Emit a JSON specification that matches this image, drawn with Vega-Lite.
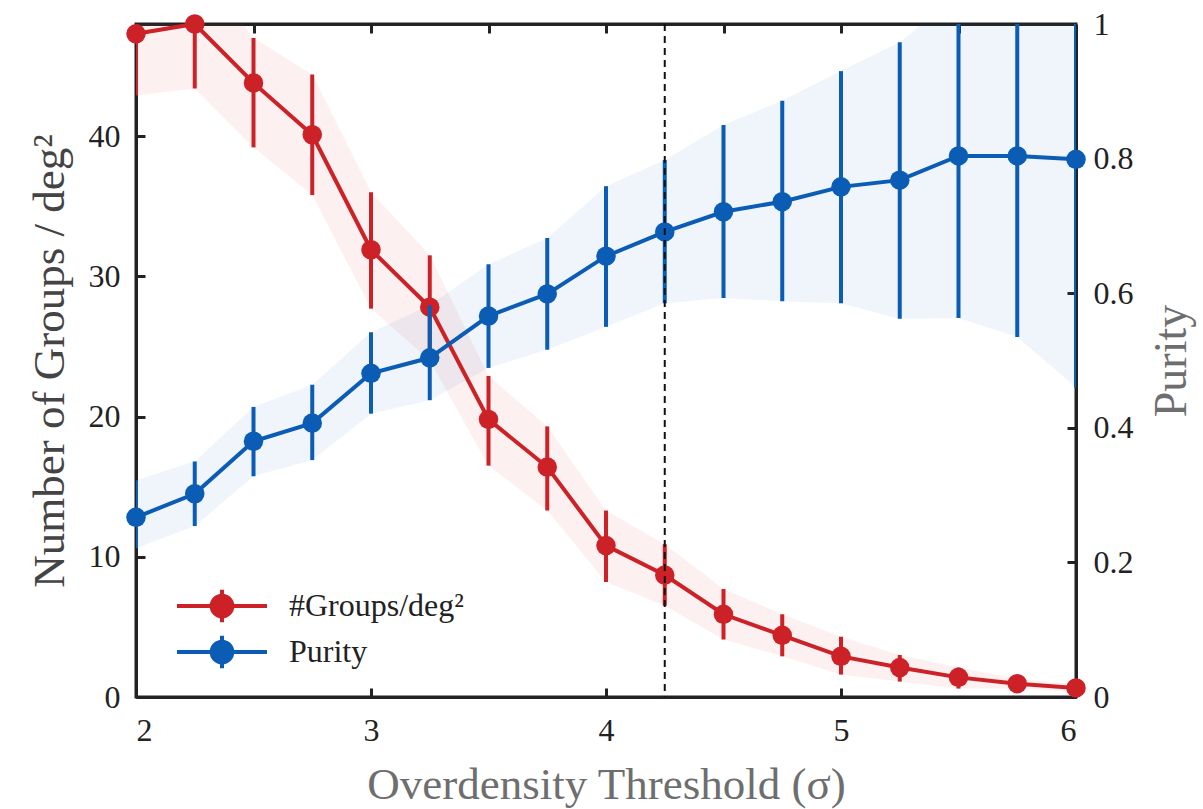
{
  "$schema": "https://vega.github.io/schema/vega-lite/v6.json",
  "width": 940,
  "height": 673,
  "autosize": "none",
  "padding": {"left": 136, "top": 24, "right": 127, "bottom": 112},
  "background": "white",
  "config": {
    "view": {"stroke": "#222", "strokeWidth": 3},
    "axis": {
      "grid": false,
      "domainColor": "#222",
      "domainWidth": 3,
      "tickColor": "#222",
      "tickWidth": 3,
      "tickSize": -9,
      "labelFont": "Liberation Serif",
      "labelFontSize": 32,
      "labelColor": "#222",
      "titleFont": "Liberation Serif",
      "titleFontSize": 45,
      "titleFontWeight": "normal"
    }
  },
  "data": {
    "values": [
      {"sigma": 2.00, "groups": 47.3, "g_lo": 42.9, "g_hi": 51.7, "purity": 0.267, "p_lo": 0.221, "p_hi": 0.322},
      {"sigma": 2.25, "groups": 48.0, "g_lo": 43.4, "g_hi": 52.6, "purity": 0.302, "p_lo": 0.254, "p_hi": 0.350},
      {"sigma": 2.50, "groups": 43.8, "g_lo": 39.2, "g_hi": 47.0, "purity": 0.380, "p_lo": 0.328, "p_hi": 0.431},
      {"sigma": 2.75, "groups": 40.1, "g_lo": 35.8, "g_hi": 44.4, "purity": 0.407, "p_lo": 0.352, "p_hi": 0.464},
      {"sigma": 3.00, "groups": 31.9, "g_lo": 27.7, "g_hi": 36.0, "purity": 0.481, "p_lo": 0.421, "p_hi": 0.542},
      {"sigma": 3.25, "groups": 27.8, "g_lo": 24.0, "g_hi": 31.5, "purity": 0.504, "p_lo": 0.441, "p_hi": 0.582},
      {"sigma": 3.50, "groups": 19.8, "g_lo": 16.5, "g_hi": 22.9, "purity": 0.566, "p_lo": 0.489, "p_hi": 0.643},
      {"sigma": 3.75, "groups": 16.4, "g_lo": 13.3, "g_hi": 19.3, "purity": 0.599, "p_lo": 0.516, "p_hi": 0.682},
      {"sigma": 4.00, "groups": 10.8, "g_lo": 8.2, "g_hi": 13.3, "purity": 0.655, "p_lo": 0.550, "p_hi": 0.759},
      {"sigma": 4.25, "groups": 8.7, "g_lo": 6.5, "g_hi": 10.9, "purity": 0.691, "p_lo": 0.585, "p_hi": 0.798},
      {"sigma": 4.50, "groups": 5.9, "g_lo": 4.1, "g_hi": 7.7, "purity": 0.721, "p_lo": 0.593, "p_hi": 0.850},
      {"sigma": 4.75, "groups": 4.4, "g_lo": 2.9, "g_hi": 5.9, "purity": 0.736, "p_lo": 0.588, "p_hi": 0.886},
      {"sigma": 5.00, "groups": 2.9, "g_lo": 1.6, "g_hi": 4.3, "purity": 0.758, "p_lo": 0.585, "p_hi": 0.930},
      {"sigma": 5.25, "groups": 2.1, "g_lo": 1.1, "g_hi": 3.0, "purity": 0.768, "p_lo": 0.562, "p_hi": 0.973},
      {"sigma": 5.50, "groups": 1.4, "g_lo": 0.6, "g_hi": 2.1, "purity": 0.804, "p_lo": 0.563, "p_hi": 1.045},
      {"sigma": 5.75, "groups": 0.95, "g_lo": 0.6, "g_hi": 1.3, "purity": 0.804, "p_lo": 0.535, "p_hi": 1.070},
      {"sigma": 6.00, "groups": 0.65, "g_lo": 0.4, "g_hi": 0.9, "purity": 0.799, "p_lo": 0.460, "p_hi": 1.140}
    ]
  },
  "resolve": {"scale": {"y": "independent"}, "axis": {"x": "independent", "y": "independent"}},
  "layer": [
    {
      "mark": {"type": "area", "color": "#E23B3B", "opacity": 0.075, "clip": true},
      "encoding": {
        "x": {"field": "sigma", "type": "quantitative", "scale": {"domain": [2, 6], "nice": false},
              "axis": {"orient": "bottom", "values": [2, 3, 4, 5, 6], "title": "Overdensity Threshold (σ)",
                       "labelPadding": 27, "titlePadding": 16, "titleColor": "#6e6e6e"}},
        "y": {"field": "g_lo", "type": "quantitative", "scale": {"domain": [0, 48], "nice": false, "zero": false},
              "axis": {"orient": "left", "values": [0, 10, 20, 30, 40], "title": "Number of Groups / deg²",
                       "labelPadding": 25, "titlePadding": 16, "titleColor": "#444"}},
        "y2": {"field": "g_hi"}
      }
    },
    {
      "mark": {"type": "area", "color": "#1F6FC0", "opacity": 0.07, "clip": true},
      "encoding": {
        "x": {"field": "sigma", "type": "quantitative",
              "axis": {"orient": "top", "values": [2.5, 3, 3.5, 4, 4.5, 5, 5.5], "labels": false, "title": null}},
        "y": {"field": "p_lo", "type": "quantitative", "scale": {"domain": [0, 1], "nice": false, "zero": false},
              "axis": {"orient": "right", "values": [0, 0.2, 0.4, 0.6, 0.8, 1], "format": "~g", "title": "Purity",
                       "titleAngle": 270, "titleFontSize": 46, "labelPadding": 26, "titlePadding": 62, "titleColor": "#6e6e6e"}},
        "y2": {"field": "p_hi"}
      }
    },
    {
      "mark": {"type": "rule", "color": "#CB2127", "strokeWidth": 4, "clip": true},
      "encoding": {
        "x": {"field": "sigma", "type": "quantitative", "axis": null},
        "y": {"field": "g_lo", "type": "quantitative", "scale": {"domain": [0, 48], "nice": false, "zero": false}, "axis": null},
        "y2": {"field": "g_hi"}
      }
    },
    {
      "mark": {"type": "line", "color": "#CB2127", "strokeWidth": 4},
      "encoding": {
        "x": {"field": "sigma", "type": "quantitative", "axis": null},
        "y": {"field": "groups", "type": "quantitative", "scale": {"domain": [0, 48], "nice": false, "zero": false}, "axis": null}
      }
    },
    {
      "mark": {"type": "point", "filled": true, "size": 380, "opacity": 1},
      "encoding": {
        "x": {"field": "sigma", "type": "quantitative", "axis": null},
        "y": {"field": "groups", "type": "quantitative", "scale": {"domain": [0, 48], "nice": false, "zero": false}, "axis": null},
        "color": {
          "datum": "#Groups/deg²",
          "scale": {"domain": ["#Groups/deg²", "Purity"], "range": ["#CB2127", "#0B5CB5"]},
          "legend": {
            "title": null,
            "orient": "none",
            "legendX": 39,
            "legendY": 563,
            "symbolType": "M-1,0H1M0,-0.36V0.36M0.23,0A0.23,0.23,0,1,1,-0.23,0A0.23,0.23,0,1,1,0.23,0Z",
            "symbolSize": 8100,
            "symbolStrokeWidth": 4,
            "symbolOpacity": 1,
            "clipHeight": 38,
            "rowPadding": 8,
            "labelOffset": 20,
            "labelLimit": 400,
            "labelFont": "Liberation Serif",
            "labelFontSize": 32,
            "labelColor": "#222",
            "encode": {"symbols": {"update": {"stroke": {"scale": "color", "field": "value"}}}}
          }
        }
      }
    },
    {
      "mark": {"type": "rule", "color": "#0B5CB5", "strokeWidth": 4, "clip": true},
      "encoding": {
        "x": {"field": "sigma", "type": "quantitative", "axis": null},
        "y": {"field": "p_lo", "type": "quantitative", "scale": {"domain": [0, 1], "nice": false, "zero": false}, "axis": null},
        "y2": {"field": "p_hi"}
      }
    },
    {
      "mark": {"type": "line", "color": "#0B5CB5", "strokeWidth": 4},
      "encoding": {
        "x": {"field": "sigma", "type": "quantitative", "axis": null},
        "y": {"field": "purity", "type": "quantitative", "scale": {"domain": [0, 1], "nice": false, "zero": false}, "axis": null}
      }
    },
    {
      "mark": {"type": "point", "filled": true, "size": 380, "opacity": 1},
      "encoding": {
        "x": {"field": "sigma", "type": "quantitative", "axis": null},
        "y": {"field": "purity", "type": "quantitative", "scale": {"domain": [0, 1], "nice": false, "zero": false}, "axis": null},
        "color": {"datum": "Purity"}
      }
    },
    {
      "data": {"values": [{"cut": 4.25}]},
      "mark": {"type": "rule", "color": "#111", "strokeWidth": 2, "strokeDash": [7, 5]},
      "encoding": {
        "x": {"field": "cut", "type": "quantitative", "axis": null}
      }
    }
  ]
}
